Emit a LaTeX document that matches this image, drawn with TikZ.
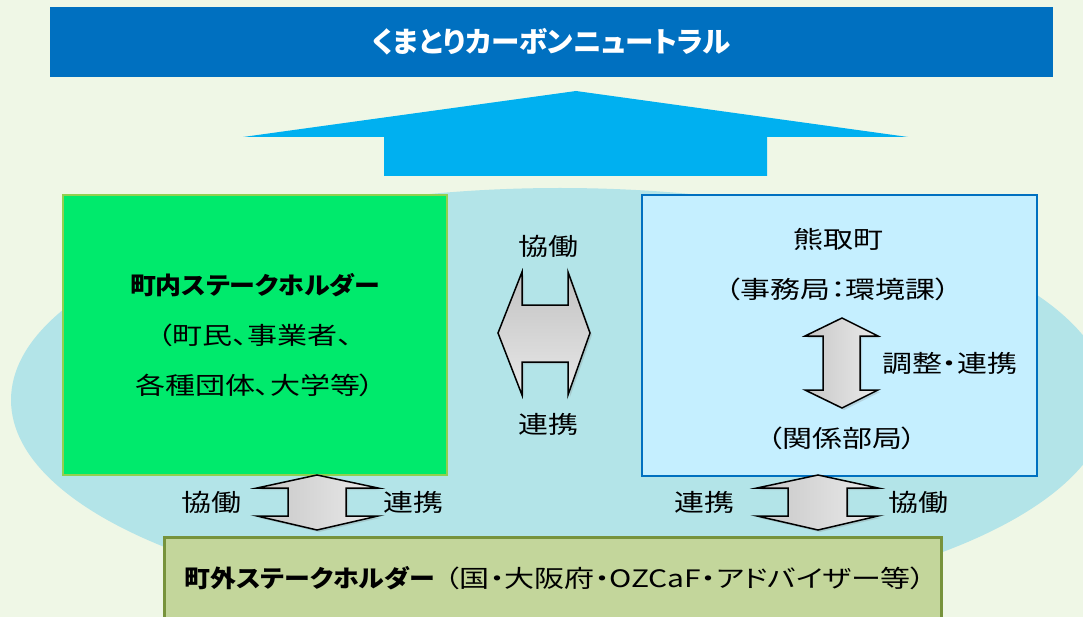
\documentclass[tikz,border=0pt]{standalone}
\usepackage{fontspec}
\setmainfont{Noto Sans CJK JP}[FakeStretch=1.25, RawFeature=+palt, BoldFeatures={FakeStretch=1.08}]
\newfontfamily\titlefont{Noto Sans CJK JP}[RawFeature=+palt]
\usetikzlibrary{positioning}
\usetikzlibrary{shadows}

\definecolor{bgGreen}{HTML}{EFF7E6}
\definecolor{ovalBlue}{HTML}{B3E4E8}
\definecolor{titleBlue}{HTML}{0070C0}
\definecolor{arrowBlue}{HTML}{00B0F0}
\definecolor{inGreen}{HTML}{00EA6C}
\definecolor{inBorder}{HTML}{92D050}
\definecolor{townBlue}{HTML}{C5EFFF}
\definecolor{outGreen}{HTML}{C3D69B}
\definecolor{outBorder}{HTML}{77933C}

\begin{document}
\begin{tikzpicture}[x=1pt, y=-1pt,
    every node/.style={font=\fontsize{24}{30}\selectfont},
    titleBar/.style={fill=titleBlue, text=white, minimum width=1003pt, minimum height=70pt, inner sep=0pt, font=\titlefont\bfseries\fontsize{28.5}{34}\selectfont},
    inBox/.style={draw=inBorder, line width=2.5pt, fill=inGreen, minimum width=384pt, minimum height=280pt, align=center, font=\fontsize{24}{50}\selectfont},
    townBox/.style={draw=titleBlue, line width=2.5pt, fill=townBlue, minimum width=395pt, minimum height=281pt},
    outBox/.style={draw=outBorder, line width=2.5pt, fill=outGreen, minimum width=777pt, minimum height=110pt, anchor=north west},
    grayArrow/.style={draw=black, line width=1.5pt, line join=miter, left color=black!22, right color=black!8, drop shadow={opacity=0.25, shadow xshift=2pt, shadow yshift=-2pt}},
    grayArrowH/.style={grayArrow, top color=black!24, bottom color=black!9},
    armLabel/.style={inner sep=0pt},
  ]
    \useasboundingbox (0,0) rectangle (1083,617);
    \fill[bgGreen] (0,0) rectangle (1083,617);
    \clip (0,0) rectangle (1083,617);

    % background oval
    \fill[ovalBlue] (560,400) ellipse [x radius=549, y radius=212];

    % goal
    \node[titleBar] (title_bar) at (551.5,42) {くまとりカーボンニュートラル};
    \fill[arrowBlue] (576,91) -- (908,137) -- (767,137) -- (767,176) -- (384,176) -- (384,137) -- (243,137) -- cycle;

    % stakeholders
    \node[inBox] (box_in) at (255,335) {\textbf{町内ステークホルダー}\\（町民、事業者、\\各種団体、大学等）};
    \node[townBox] (box_town) at (839.5,335.5) {};
    \node[align=center, font=\fontsize{24}{50}\selectfont] (town_name) at (838,265) {熊取町\\（事務局：環境課）};
    \node (town_depts) at (842,438) {（関係部局）};
    \node[outBox] (box_out) at (163,536) {};
    \node[anchor=west] (out_text) at (181,578) {\textbf{町外ステークホルダー}\hspace{10pt}（国・大阪府・OZCaF・アドバイザー等）};

    % arrows
    \coordinate (arr_mid) at (544,333);
    \coordinate (arr_town) at (842,363);
    \coordinate (arr_bl) at (317,502);
    \coordinate (arr_br) at (818,502);

    \draw[grayArrowH] (498,333) -- (522,272) -- (522,305) -- (568,305) -- (568,272) -- (590,333)
      -- (568,395) -- (568,362) -- (522,362) -- (522,395) -- cycle;
    \draw[grayArrow] (842,318) -- (878,336) -- (860,336) -- (860,390) -- (878,390) -- (842,408)
      -- (805,390) -- (823,390) -- (823,336) -- (805,336) -- cycle;
    \draw[grayArrow] (317,475) -- (378,488) -- (346,488) -- (346,516) -- (378,516) -- (317,530)
      -- (257,516) -- (288,516) -- (288,488) -- (257,488) -- cycle;
    \draw[grayArrow] (818,475) -- (878,488) -- (847,488) -- (847,516) -- (878,516) -- (818,530)
      -- (757,516) -- (788,516) -- (788,488) -- (757,488) -- cycle;

    % arrow labels
    \node[armLabel] (coop_mid) at (548,246) {協働};
    \node[armLabel] (link_mid) at (548,424) {連携};
    \node[armLabel, right=40pt of arr_town] (link_town) {調整・連携};
    \node[armLabel, left=75pt of arr_bl] (coop_bl) {協働};
    \node[armLabel, right=66pt of arr_bl] (link_bl) {連携};
    \node[armLabel, left=83pt of arr_br] (link_br) {連携};
    \node[armLabel, right=70pt of arr_br] (coop_br) {協働};
  \end{tikzpicture}
\end{document}
